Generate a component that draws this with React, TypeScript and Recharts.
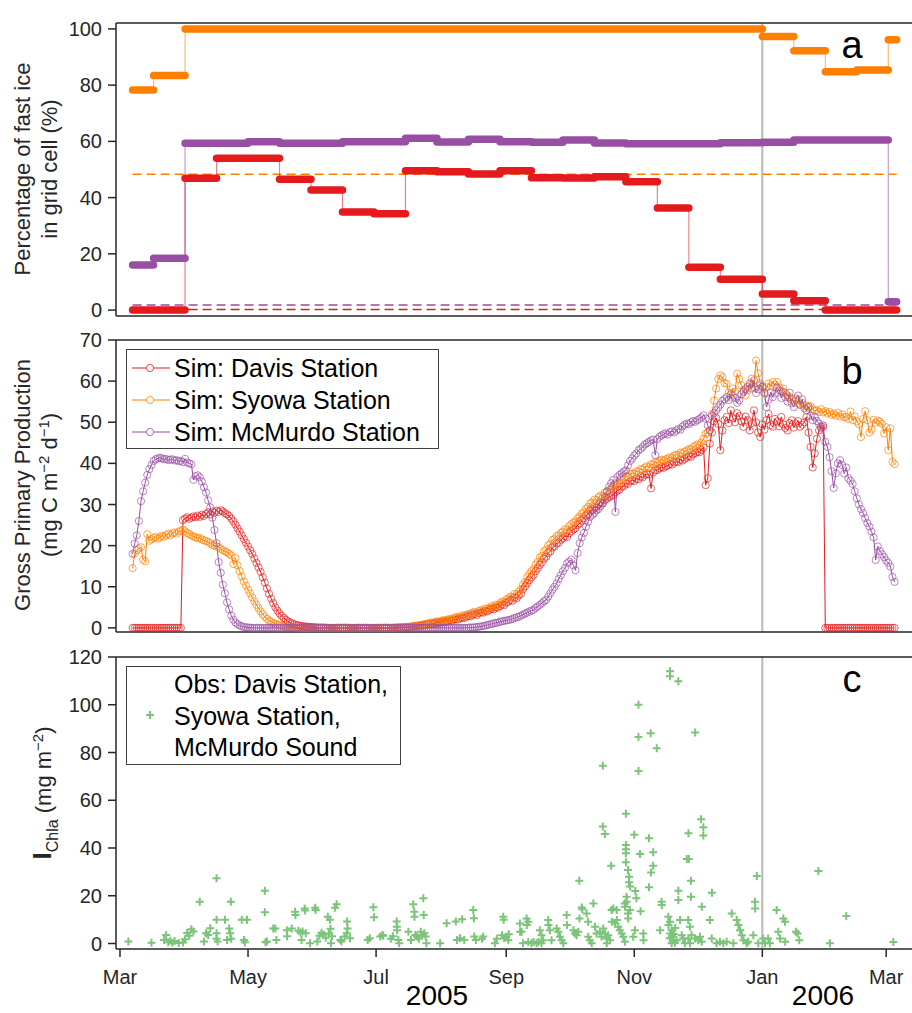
import React from 'react';
import { ComposedChart, Line, Scatter, XAxis, YAxis, ReferenceLine } from 'recharts';

const DAVIS = '#e41a1c';
const SYOWA = '#ff7f00';
const MCMURDO = '#984ea3';
const OBS = '#7cc47a';
const INK = '#262626';

// time axis: days counted from 1 Mar 2005
const monthTicks = [0, 61, 122, 184, 245, 306, 365];
const monthLabels = ['Mar', 'May', 'Jul', 'Sep', 'Nov', 'Jan', 'Mar'];
const newYearDay = 306;
const xDomain: [number, number] = [-1.9, 377.3];

// (a) fast ice fraction, 15-day periods
const iceBreaks = [6, 16, 31, 46, 61, 76, 91, 106, 121, 136, 151, 166, 181, 196, 211, 226, 241, 256, 271, 286, 301, 306, 321, 336, 351, 366, 370];
const iceDavis = [0, 0, 46.9, 54.0, 54.0, 46.5, 42.7, 34.9, 34.3, 49.6, 49.2, 48.4, 49.6, 47.1, 47.0, 47.4, 45.6, 36.3, 15.2, 11.0, 11.0, 5.7, 3.3, 0, 0, 0];
const iceSyowa = [78.3, 83.4, 100, 100, 100, 100, 100, 100, 100, 100, 100, 100, 100, 100, 100, 100, 100, 100, 100, 100, 100, 97.3, 92.2, 84.8, 85.4, 96.1];
const iceMcMurdo = [16.0, 18.4, 59.3, 59.3, 59.9, 59.3, 59.3, 59.9, 59.9, 61.1, 59.8, 60.8, 59.9, 59.7, 60.5, 59.4, 59.2, 59.2, 59.2, 59.5, 59.5, 59.7, 60.5, 60.5, 60.5, 3.0];
const iceMean = { davis: 0.2, syowa: 48.3, mcmurdo: 1.8 };
const iceTicks = [0, 20, 40, 60, 80, 100];

// (b) simulated GPP, daily from day 6
const gppStartDay = 6;
const gppDavis = [
  /* 6 */ 0, 0, 0, 0, 0, 0, 0, 0, 0, 0,
  /* 16 */ 0, 0, 0, 0, 0, 0, 0, 0, 0, 0,
  /* 26 */ 0, 0, 0, 0, 26.2, 26.6, 26.9, 26.5, 26.8, 27.1,
  /* 36 */ 26.9, 27.3, 27.0, 27.5, 27.2, 27.7, 28.1, 27.6, 28.3, 28.0,
  /* 46 */ 28.5, 28.2, 28.6, 28.3, 27.9, 27.6, 27.2, 26.6, 25.9, 25.1,
  /* 56 */ 24.2, 23.4, 22.5, 21.6, 20.7, 19.8, 18.9, 18.0, 16.9, 15.8,
  /* 66 */ 14.7, 13.6, 12.3, 11.0, 9.6, 8.3, 7.1, 6.0, 5.0, 4.2,
  /* 76 */ 3.5, 2.9, 2.4, 2.0, 1.6, 1.3, 1.1, 0.9, 0.7, 0.6,
  /* 86 */ 0.5, 0.4, 0.35, 0.3, 0.25, 0.2, 0.2, 0.15, 0.1, 0.1,
  /* 96 */ 0.1, 0.05, 0.05, 0, 0, 0, 0, 0, 0, 0,
  /* 106 */ 0, 0, 0, 0, 0, 0, 0, 0, 0, 0,
  /* 116 */ 0, 0, 0, 0, 0, 0, 0, 0, 0, 0,
  /* 126 */ 0, 0, 0, 0, 0, 0.05, 0.05, 0.1, 0.1, 0.15,
  /* 136 */ 0.15, 0.2, 0.25, 0.3, 0.35, 0.4, 0.5, 0.55, 0.6, 0.7,
  /* 146 */ 0.8, 0.9, 1.0, 0.95, 1.1, 1.3, 1.2, 1.4, 1.5, 1.4,
  /* 156 */ 1.6, 1.8, 1.7, 2.0, 2.1, 2.0, 2.3, 2.5, 2.4, 2.7,
  /* 166 */ 2.9, 2.8, 3.2, 3.4, 3.1, 3.6, 3.8, 3.7, 4.1, 4.0,
  /* 176 */ 4.4, 4.7, 4.5, 5.0, 4.9, 5.3, 5.7, 5.5, 6.1, 6.4,
  /* 186 */ 6.8, 6.6, 7.4, 7.2, 7.9, 8.3, 9.4, 10.1, 10.9, 11.6,
  /* 196 */ 12.3, 12.9, 13.8, 14.5, 15.3, 15.9, 16.8, 17.3, 18.2, 18.6,
  /* 206 */ 19.5, 19.8, 20.5, 20.7, 21.4, 21.8, 22.3, 22.1, 23.0, 23.5,
  /* 216 */ 23.9, 24.2, 25.0, 25.4, 26.1, 26.6, 27.3, 27.7, 28.5, 28.8,
  /* 226 */ 29.4, 29.2, 30.0, 30.5, 30.3, 31.1, 31.4, 31.8, 32.1, 32.3,
  /* 236 */ 33.0, 33.4, 33.6, 34.3, 34.5, 35.1, 35.0, 35.6, 35.9, 35.7,
  /* 246 */ 36.3, 36.1, 36.8, 36.6, 37.2, 37.4, 37.3, 33.9, 37.8, 38.3,
  /* 256 */ 38.4, 38.8, 39.1, 38.9, 39.3, 39.5, 39.9, 39.7, 40.2, 40.4,
  /* 266 */ 40.3, 40.9, 40.7, 41.1, 41.4, 41.8, 41.6, 42.2, 42.5, 42.8,
  /* 276 */ 42.7, 43.3, 43.9, 34.7, 36.4, 44.8, 47.5, 50.2, 51.0, 49.6,
  /* 286 */ 43.2, 48.0, 50.5, 51.3, 49.8, 52.9, 51.0, 50.0, 52.2, 51.5,
  /* 296 */ 50.2, 48.9, 51.4, 50.5, 48.0, 49.8, 52.9, 50.0, 47.5, 46.4,
  /* 306 */ 49.5, 48.2, 50.5, 52.0, 49.3, 48.9, 50.8, 50.2, 49.0, 51.3,
  /* 316 */ 49.5, 48.6, 48.0, 49.8, 50.5, 48.7, 49.7, 50.3, 48.9, 49.4,
  /* 326 */ 50.0, 51.3, 47.5, 44.0, 39.0, 42.4, 46.0, 48.0, 48.9, 49.2,
  /* 336 */ 0, 0, 0, 0, 0, 0, 0, 0, 0, 0,
  /* 346 */ 0, 0, 0, 0, 0, 0, 0, 0, 0, 0,
  /* 356 */ 0, 0, 0, 0, 0, 0, 0, 0, 0, 0,
  /* 366 */ 0, 0, 0, 0,
];
const gppSyowa = [
  /* 6 */ 14.5, 18.0, 18.9, 19.3, 19.6, 16.6, 16.2, 22.8, 21.2, 21.5,
  /* 16 */ 21.9, 22.1, 21.7, 22.0, 22.4, 22.2, 22.6, 22.9, 22.5, 23.0,
  /* 26 */ 23.2, 22.9, 23.4, 23.6, 23.9, 23.5, 23.1, 22.8, 22.5, 22.2,
  /* 36 */ 22.0, 21.8, 21.9, 21.5, 21.3, 21.1, 20.9, 20.6, 20.2, 20.0,
  /* 46 */ 19.8, 19.6, 19.2, 18.9, 18.6, 18.4, 18.0, 17.6, 15.5, 17.0,
  /* 56 */ 15.2, 13.8, 12.5, 11.3, 10.3, 9.3, 8.4, 7.4, 6.5, 5.6,
  /* 66 */ 4.8, 4.0, 3.3, 2.7, 2.2, 1.8, 1.5, 1.2, 1.0, 0.8,
  /* 76 */ 0.65, 0.5, 0.4, 0.3, 0.25, 0.2, 0.15, 0.1, 0.1, 0.05,
  /* 86 */ 0.05, 0, 0, 0, 0, 0, 0, 0, 0, 0,
  /* 96 */ 0, 0, 0, 0, 0, 0, 0, 0, 0, 0,
  /* 106 */ 0, 0, 0, 0, 0, 0, 0, 0, 0, 0,
  /* 116 */ 0, 0, 0, 0, 0, 0, 0, 0, 0, 0,
  /* 126 */ 0, 0, 0, 0, 0.05, 0.05, 0.1, 0.1, 0.15, 0.15,
  /* 136 */ 0.2, 0.25, 0.3, 0.35, 0.45, 0.5, 0.6, 0.7, 0.8, 0.9,
  /* 146 */ 1.0, 1.1, 1.3, 1.2, 1.4, 1.6, 1.5, 1.7, 1.9, 1.8,
  /* 156 */ 2.0, 2.2, 2.1, 2.4, 2.6, 2.5, 2.8, 3.0, 2.9, 3.2,
  /* 166 */ 3.4, 3.3, 3.7, 3.9, 3.6, 4.1, 4.4, 4.2, 4.7, 4.6,
  /* 176 */ 4.9, 5.3, 5.1, 5.6, 5.5, 6.0, 6.4, 6.2, 6.9, 7.2,
  /* 186 */ 7.6, 7.4, 8.3, 8.1, 8.8, 9.4, 10.5, 11.2, 12.4, 13.1,
  /* 196 */ 13.8, 14.3, 15.4, 16.0, 17.1, 17.5, 18.6, 19.0, 20.1, 20.4,
  /* 206 */ 21.4, 21.6, 22.3, 22.5, 23.1, 23.4, 24.0, 23.8, 24.7, 25.2,
  /* 216 */ 25.6, 25.9, 26.7, 27.0, 27.8, 28.1, 29.0, 29.4, 30.3, 30.5,
  /* 226 */ 31.2, 31.0, 31.8, 32.2, 32.0, 32.9, 33.1, 33.5, 33.9, 34.0,
  /* 236 */ 34.8, 35.1, 35.3, 36.0, 36.2, 36.9, 36.8, 37.4, 37.6, 37.5,
  /* 246 */ 38.1, 38.0, 38.6, 38.5, 39.0, 39.3, 39.1, 39.8, 39.7, 40.3,
  /* 256 */ 40.2, 40.6, 40.9, 40.7, 41.0, 41.2, 41.5, 41.3, 41.9, 42.1,
  /* 266 */ 42.0, 42.6, 42.4, 42.9, 43.1, 43.5, 43.4, 44.0, 44.2, 44.6,
  /* 276 */ 44.4, 45.1, 46.0, 47.2, 47.5, 48.1, 52.0, 55.3, 58.2, 60.5,
  /* 286 */ 61.4, 61.0, 59.5, 59.4, 57.2, 56.0, 58.2, 57.5, 61.8, 60.5,
  /* 296 */ 59.0, 57.8, 56.5, 57.8, 59.0, 60.6, 58.5, 65.0, 61.9, 59.5,
  /* 306 */ 58.6, 57.0, 58.5, 59.4, 58.8, 59.8, 59.2, 59.8, 58.5, 57.6,
  /* 316 */ 58.2, 57.0, 56.5, 56.1, 55.5, 54.9, 55.4, 54.6, 54.2, 54.8,
  /* 326 */ 53.9, 54.1, 53.5, 53.9, 53.2, 52.8, 52.9, 52.5, 53.2, 52.4,
  /* 336 */ 52.7, 52.1, 52.5, 51.8, 52.1, 51.6, 52.3, 51.4, 51.9, 51.2,
  /* 346 */ 51.3, 50.8, 52.6, 50.5, 51.4, 50.2, 49.5, 46.4, 50.8, 52.7,
  /* 356 */ 50.5, 47.5, 48.2, 50.6, 49.9, 50.4, 50.1, 49.6, 47.3, 48.8,
  /* 366 */ 43.2, 48.5, 40.4, 39.8,
];
const gppMcMurdo = [
  /* 6 */ 18.0, 20.5, 22.5, 26.0, 30.8, 33.2, 35.3, 37.2, 38.6, 39.6,
  /* 16 */ 40.6, 41.0, 41.2, 41.4, 41.2, 41.0, 41.1, 40.8, 40.9, 41.0,
  /* 26 */ 40.7, 40.8, 40.5, 40.6, 40.3, 41.1, 40.2, 40.0, 39.8, 36.0,
  /* 36 */ 36.9, 37.1, 36.6, 35.6, 34.2, 32.9, 31.0, 29.3, 26.8, 23.8,
  /* 46 */ 20.6, 16.0, 13.4, 10.5, 8.4, 6.2, 4.5, 3.0, 2.0, 1.3,
  /* 56 */ 0.9, 0.6, 0.35, 0.25, 0.15, 0.1, 0.05, 0, 0, 0,
  /* 66 */ 0, 0, 0, 0, 0, 0, 0, 0, 0, 0,
  /* 76 */ 0, 0, 0, 0, 0, 0, 0, 0, 0, 0,
  /* 86 */ 0, 0, 0, 0, 0, 0, 0, 0, 0, 0,
  /* 96 */ 0, 0, 0, 0, 0, 0, 0, 0, 0, 0,
  /* 106 */ 0, 0, 0, 0, 0, 0, 0, 0, 0, 0,
  /* 116 */ 0, 0, 0, 0, 0, 0, 0, 0, 0, 0,
  /* 126 */ 0, 0, 0, 0, 0, 0, 0, 0, 0, 0,
  /* 136 */ 0, 0, 0, 0, 0, 0, 0, 0, 0, 0,
  /* 146 */ 0, 0, 0, 0, 0, 0, 0, 0, 0, 0,
  /* 156 */ 0, 0, 0, 0, 0, 0, 0, 0, 0, 0,
  /* 166 */ 0.05, 0.1, 0.1, 0.15, 0.2, 0.3, 0.35, 0.45, 0.55, 0.7,
  /* 176 */ 0.8, 0.95, 1.1, 1.2, 1.3, 1.5, 1.6, 1.7, 1.8, 1.9,
  /* 186 */ 2.0, 2.2, 2.4, 2.6, 2.7, 3.0, 3.2, 3.5, 3.7, 4.0,
  /* 196 */ 4.2, 4.4, 4.9, 5.2, 5.6, 6.0, 6.5, 6.8, 7.6, 8.4,
  /* 206 */ 9.3, 10.0, 10.8, 11.9, 12.8, 13.8, 14.6, 15.7, 16.1, 16.6,
  /* 216 */ 15.2, 14.0, 18.2, 20.6, 22.0, 23.1, 24.6, 25.8, 27.0, 27.5,
  /* 226 */ 27.9, 28.6, 28.9, 29.6, 30.3, 31.8, 33.2, 34.3, 35.2, 36.0,
  /* 236 */ 28.2, 36.7, 37.2, 37.6, 38.0, 38.3, 39.5, 40.6, 41.2, 41.9,
  /* 246 */ 42.4, 43.2, 43.5, 44.0, 44.6, 44.9, 45.2, 45.6, 45.8, 42.0,
  /* 256 */ 45.9, 46.5, 46.8, 47.1, 47.3, 47.0, 47.6, 47.8, 47.5, 48.0,
  /* 266 */ 48.4, 48.2, 49.0, 49.4, 49.7, 49.5, 50.0, 50.3, 50.1, 50.5,
  /* 276 */ 50.8, 51.2, 51.7, 50.9, 49.2, 48.0, 51.5, 52.2, 52.9, 53.6,
  /* 286 */ 54.3, 55.2, 55.6, 56.1, 55.4, 56.8, 56.5, 55.9, 54.7, 55.3,
  /* 296 */ 56.8, 57.4, 58.1, 58.6, 59.4, 58.2, 60.2, 57.1, 58.0, 59.0,
  /* 306 */ 58.6, 57.2, 53.7, 55.5, 57.3, 56.1, 57.0, 58.4, 57.8, 55.9,
  /* 316 */ 57.4, 56.1, 55.0, 57.2, 54.6, 53.7, 55.8, 56.5, 54.3, 55.6,
  /* 326 */ 53.4, 52.9, 53.8, 51.6, 50.5, 51.2, 50.3, 49.7, 48.5, 48.8,
  /* 336 */ 45.2, 44.0, 41.5, 38.1, 34.0, 37.6, 40.0, 40.8, 39.6, 37.5,
  /* 346 */ 39.0, 36.4, 35.8, 35.0, 33.2, 31.5, 30.0, 28.9, 27.9, 26.7,
  /* 356 */ 25.5, 24.6, 23.4, 22.0, 16.5, 19.8, 18.7, 17.9, 17.2, 16.4,
  /* 366 */ 15.8, 14.9, 12.4, 11.2,
];
const gppTicks = [0, 10, 20, 30, 40, 50, 60, 70];

// (c) observed ice chlorophyll, [day, mg m-2]
const obsPoints: [number, number][] = [
  [4, 0.8], [15, 0.3], [21, 1.5], [22, 3.6], [23, 0.5], [24, 1.2], [25, 0.3], [26, 1.0], [28, 0.2], [30, 0.4], [31, 1.8], [32, 4.4], [33, 3.2], [34, 6.0], [35, 5.0],
  [38, 17.5], [40, 0.8], [41, 4.3], [42, 3.6], [43, 6.4],
  [46, 27.3], [46, 9.9], [46, 4.3], [46, 2.0], [46.5, 0.8], [50, 9.9], [51, 1.5], [52, 6.3], [52.5, 4.3], [52.8, 17.5], [53, 2.0],
  [58, 9.9], [59, 1.5], [59.5, 0.5], [60.5, 9.9],
  [69, 22.1], [69, 13.1], [69.3, 0.5], [70, 0.8], [73, 6.3], [74, 6.3], [74.5, 1.5],
  [79.5, 5.6], [79.6, 3.0], [81.8, 6.3], [83.4, 13.3], [83.6, 11.9], [85, 5.3], [86, 4.6], [86.5, 1.5], [87, 5.0], [88, 14.7], [88.2, 13.8], [88.5, 4.3], [90.5, 0.1],
  [93, 15.0], [93.2, 14.0], [94, 0.8], [95, 3.3], [96, 4.5], [97, 3.8], [98, 2.4], [99, 11.2], [99.5, 4.2], [100, 9.9], [100.3, 6.2], [100.5, 0.1], [101, 3.0],
  [102.4, 15.0], [103.2, 16.4], [105, 1.5], [105.5, 0.8], [107, 2.9], [108, 4.3], [108.2, 9.2], [108.4, 6.3], [109.6, 2.2],
  [118, 1.5], [119, 2.2], [120.7, 15.2], [121, 11.0], [124, 2.9], [125, 3.6], [125.4, 3.2], [129, 2.0], [130, 3.0], [131.8, 9.2], [131.9, 7.0], [132, 5.6], [132.6, 1.5], [133, 0.1],
  [137.4, 4.9], [138.6, 1.5], [139.7, 16.4], [140.2, 13.3], [140.3, 11.2], [140.7, 3.6], [141.5, 2.9], [142.4, 2.0], [143.3, 4.9], [144, 3.6], [144.5, 19.0], [144.7, 11.9], [145, 4.3], [145.6, 2.9], [146, 0.1],
  [152.5, 0.1], [155.6, 8.5], [160, 9.2], [160.5, 1.5], [162, 2.2], [163, 10.2], [164, 1.5], [168.3, 14.0], [168.6, 10.6], [168.8, 2.9], [169.5, 1.5], [172.5, 2.0], [173, 2.9], [178.6, 0.1], [179.5, 2.0],
  [182.6, 11.2], [182.8, 10.0], [182, 3.5], [183, 2.2], [184, 2.8], [185, 1.4], [185.2, 3.9],
  [190.5, 8.4], [190.6, 4.9], [191.3, 4.9], [193.7, 10.5], [194.5, 9.1], [193.8, 7.7], [192, 0.1], [194.5, 0.6], [196, 0.1], [197, 0.6], [198.4, 0.1], [199.3, 0.6], [200.8, 0.1], [201.6, 1.4], [200, 5.6], [200.8, 3.5],
  [204, 9.8], [204.1, 7.7], [204.8, 5.6], [205.6, 1.4], [208, 6.3], [208.8, 4.9], [209.6, 2.8], [210.4, 1.4], [211.2, 0.1],
  [212.8, 11.9], [212.9, 7.7], [216, 5.6], [216.8, 4.2], [217.5, 3.5], [218.3, 4.9], [218.8, 26.3], [218.9, 10.5], [220, 15.1], [220.2, 14.3],
  [222.3, 12.6], [223, 9.1], [223.1, 2.8], [223.8, 1.4], [224.7, 0.1], [225.5, 16.8],
  [226.3, 7.0], [227, 4.2], [228.6, 4.9], [229.4, 2.8], [230.2, 6.3], [231, 4.2], [231.8, 2.1], [231.9, 0.1], [232.6, 3.5], [233.4, 1.4],
  [234.2, 14.0], [235, 14.7], [236.6, 14.0], [234.3, 9.1], [235.8, 8.4], [236.7, 9.8], [237.4, 7.0], [238.1, 5.6], [239, 4.2], [239.8, 2.8], [240.5, 0.7],
  [240.5, 16.8], [240.6, 15.4], [241.3, 19.6], [241.4, 17.5], [242, 12.6], [242.1, 10.5], [242.9, 14.0],
  [244.5, 2.8], [245.3, 5.6], [249.3, 4.2], [249.4, 1.4],
  [257.3, 5.6], [258, 17.5], [258.1, 16.1],
  [261.2, 11.2], [262, 9.1], [261.3, 7.7], [262.8, 5.6], [262.1, 4.2], [262.9, 2.8], [263.6, 1.4], [262.8, 0.1], [264.4, 0.3], [265.2, 1.4], [263.8, 4.0], [264.5, 6.5], [263, 3.0], [261.9, 2.2],
  [266, 18.2], [266.8, 9.8], [267.6, 3.5], [268.3, 2.1], [269.1, 0.1],
  [270.7, 9.8], [271.5, 7.0], [270.8, 2.1], [271.6, 0.1], [272.3, 3.5],
  [274, 2.1], [275.5, 1.4], [276.3, 2.8], [277.1, 0.7], [277.2, 15.4],
  [281, 9.8], [281.9, 2.1],
  [284.2, 0.1], [285.8, 0.7], [287.4, 0.1], [289, 0.7], [291.4, 12.6], [292.2, 0.1],
  [293.8, 9.8], [294.6, 7.7], [295.4, 5.6], [296.2, 3.5], [297, 1.4], [298.5, 0.1], [299.3, 0.7], [301.7, 3.5], [302.5, 17.5], [302.6, 14.7], [304.1, 0.1],
  [306.4, 2.1], [307.3, 0.1], [308.8, 2.1], [309.6, 0.1],
  [312.8, 14.0], [313.6, 4.9], [314.4, 2.1], [316, 10.5], [316.8, 9.1], [316.9, 0.7],
  [322, 4.9], [322.8, 4.2], [323.6, 1.4],
  [338.2, 0.1], [346, 11.5], [368.4, 0.6],
  [262, 114.0], [262, 111.9], [266, 109.8], [247, 100.0], [247, 86.5], [252.8, 88.1], [255.7, 81.8], [274, 88.4], [230, 74.4], [247, 72.3],
  [241, 54.3], [230, 49.0], [231, 45.9], [245, 45.5], [252, 44.1], [276.8, 52.0], [277.9, 48.7], [277.9, 45.2], [270.8, 46.2],
  [241, 41.3], [241, 39.5], [241, 37.8], [247.7, 37.5], [254, 38.2], [241, 34.0], [234, 32.6], [254, 32.6], [253, 29.7], [270, 35.4], [271, 35.4],
  [242, 30.8], [242.5, 28.0], [242.5, 25.7], [243, 23.9], [252, 23.6], [272, 26.3], [282, 21.3], [266, 22.1], [245.5, 22.0], [246, 19.0], [248, 13.5],
  [303.4, 28.3], [332.7, 30.4], [272, 19.6],
];
const obsTicks = [0, 20, 40, 60, 80, 100, 120];

const stations = [
  { label: 'Sim: Davis Station', color: DAVIS, ice: iceDavis, mean: iceMean.davis, gpp: gppDavis },
  { label: 'Sim: Syowa Station', color: SYOWA, ice: iceSyowa, mean: iceMean.syowa, gpp: gppSyowa },
  { label: 'Sim: McMurdo Station', color: MCMURDO, ice: iceMcMurdo, mean: iceMean.mcmurdo, gpp: gppMcMurdo },
];
const obsLegend = ['Obs: Davis Station,', 'Syowa Station,', 'McMurdo Sound'];

// tables for the library
const lastBreak = iceBreaks[iceBreaks.length - 1];
const iceSegments = (vals: number[]) =>
  vals.flatMap((v, i) => [
    { d: iceBreaks[i], v },
    { d: iceBreaks[i + 1], v },
    { d: iceBreaks[i + 1], v: null as number | null },
  ]);
const iceSteps = (vals: number[]) =>
  vals.map((v, i) => ({ d: iceBreaks[i], v })).concat({ d: lastBreak, v: vals[vals.length - 1] });
const meanRows = (v: number) => [{ d: iceBreaks[0], v }, { d: lastBreak, v }];
const gppRows = (vals: number[]) => vals.map((v, i) => ({ d: gppStartDay + i, v }));
const obsRows = obsPoints.map(([d, v]) => ({ d, v }));

const axisLine = { stroke: INK, strokeWidth: 1.5 };
const tickLine = { stroke: INK, strokeWidth: 1.5 };
const tickFont = { fontSize: 20, fill: INK };

const timeAxes = (showLabels: boolean) => [
  <XAxis key="top" xAxisId="top" orientation="top" type="number" dataKey="d" domain={xDomain} ticks={monthTicks}
    allowDataOverflow height={8} interval={0} tick={false} tickSize={8} axisLine={axisLine} tickLine={tickLine} />,
  <XAxis key="bottom" type="number" dataKey="d" domain={xDomain} ticks={monthTicks} allowDataOverflow
    height={showLabels ? 50 : 8} interval={0} tickSize={8} tickMargin={13} axisLine={axisLine} tickLine={tickLine}
    tick={showLabels ? tickFont : false}
    tickFormatter={(d: number) => monthLabels[monthTicks.indexOf(d)]} />,
];

const valueAxis = (domain: [number, number], ticks: number[]) => (
  <YAxis type="number" domain={domain} ticks={ticks} allowDataOverflow width={116} tickSize={8} tickMargin={6}
    interval={0} axisLine={axisLine} tickLine={tickLine} tick={tickFont} />
);

const newYearLine = <ReferenceLine x={newYearDay} stroke="#b8b8b8" strokeWidth={2} />;

const PlusShape = (props: any) => {
  const { cx, cy } = props;
  if (cx == null || cy == null) return null;
  return <path d={`M${cx - 4},${cy}h8M${cx},${cy - 4}v8`} stroke={OBS} strokeWidth={2} fill="none" />;
};

const App: React.FC = () => {
  const drawOrder = [stations[1], stations[0], stations[2]];
  return (
    <div style={{ position: 'absolute', left: 0, top: 0, width: 912, height: 1013, background: '#fff', overflow: 'hidden', fontFamily: '"Liberation Sans", Arial, sans-serif' }}>
      {/* a: fast ice */}
      <div style={{ position: 'absolute', left: 0, top: 0 }}>
        <ComposedChart width={912} height={332} margin={{ top: 15, right: 0, bottom: 8, left: 0 }}>
          {timeAxes(false)}
          {valueAxis([-2.1, 102.1], iceTicks)}
          {newYearLine}
          {stations.map((s) => (
            <Line key={'mean' + s.label} data={meanRows(s.mean)} dataKey="v" stroke={s.color} strokeWidth={1.6}
              strokeDasharray="9 5" dot={false} activeDot={false} isAnimationActive={false} />
          ))}
          {stations.map((s) => (
            <Line key={'step' + s.label} data={iceSteps(s.ice)} dataKey="v" type="stepAfter" stroke={s.color}
              strokeOpacity={0.55} strokeWidth={1.2} dot={false} activeDot={false} isAnimationActive={false} />
          ))}
          {drawOrder.map((s) => (
            <Line key={'seg' + s.label} data={iceSegments(s.ice)} dataKey="v" stroke={s.color} strokeWidth={7.5}
              strokeLinecap="round" dot={false} activeDot={false} isAnimationActive={false} />
          ))}
        </ComposedChart>
      </div>

      {/* b: gross primary production */}
      <div style={{ position: 'absolute', left: 0, top: 330 }}>
        <ComposedChart width={912} height={320} margin={{ top: 2, right: 0, bottom: 10, left: 0 }}>
          {timeAxes(false)}
          {valueAxis([-1, 70], gppTicks)}
          {newYearLine}
          {stations.map((s) => (
            <Line key={'gpp' + s.label} data={gppRows(s.gpp)} dataKey="v" stroke={s.color} strokeWidth={1}
              dot={{ r: 3.6, fill: 'none', stroke: s.color, strokeWidth: 0.8, strokeOpacity: 0.85 }}
              activeDot={false} isAnimationActive={false} />
          ))}
        </ComposedChart>
      </div>

      {/* c: observations */}
      <div style={{ position: 'absolute', left: 0, top: 640 }}>
        <ComposedChart width={912} height={373} margin={{ top: 9, right: 0, bottom: 14, left: 0 }}>
          {timeAxes(true)}
          {valueAxis([-2.3, 120], obsTicks)}
          {newYearLine}
          <Scatter data={obsRows} dataKey="v" fill={OBS} shape={PlusShape} isAnimationActive={false} />
        </ComposedChart>
      </div>

      <svg width={912} height={1013} style={{ position: 'absolute', left: 0, top: 0, pointerEvents: 'none' }}>
        <g fontSize={22} fill={INK} textAnchor="middle">
          <text transform="translate(30,169) rotate(-90)">Percentage of fast ice</text>
          <text transform="translate(57,169) rotate(-90)">in grid cell (%)</text>
          <text transform="translate(30,485) rotate(-90)">Gross Primary Production</text>
          <text transform="translate(57,485) rotate(-90)">
            (mg C m<tspan dy={-8} fontSize={15}>−2</tspan>
            <tspan dy={8}> d</tspan>
            <tspan dy={-8} fontSize={15}>−1</tspan>
            <tspan dy={8}>)</tspan>
          </text>
          <text transform="translate(51,793) rotate(-90)">
            <tspan fontSize={26} fontWeight={700}>I</tspan>
            <tspan dy={7} fontSize={16}>Chla</tspan>
            <tspan dy={-7}> (mg m</tspan>
            <tspan dy={-8} fontSize={15}>−2</tspan>
            <tspan dy={8}>)</tspan>
          </text>
        </g>

        <g fontSize={38} fill="#000" textAnchor="middle">
          <text x={852} y={58}>a</text>
          <text x={852} y={384}>b</text>
          <text x={852} y={692}>c</text>
        </g>

        <g fontSize={28} fill="#000" textAnchor="middle">
          <text x={437} y={1005}>2005</text>
          <text x={823} y={1005}>2006</text>
        </g>

        <rect x={126.5} y={349.5} width={312} height={99} fill="#fff" stroke="#404040" strokeWidth={1} />
        {stations.map((s, i) => (
          <g key={'leg' + s.label}>
            <line x1={132} x2={170} y1={368 + 32 * i} y2={368 + 32 * i} stroke={s.color} strokeWidth={1} />
            <circle cx={150} cy={368 + 32 * i} r={3.6} fill="#fff" stroke={s.color} strokeWidth={0.8} />
            <text x={174} y={377 + 32 * i} fontSize={25} fill="#000">{s.label}</text>
          </g>
        ))}

        <rect x={126.5} y={666.5} width={274} height={98} fill="#fff" stroke="#404040" strokeWidth={1} />
        <path d="M146,715h8M150,711v8" stroke={OBS} strokeWidth={2} />
        {obsLegend.map((t, i) => (
          <text key={t} x={174} y={693 + 31.5 * i} fontSize={25} fill="#000">{t}</text>
        ))}
      </svg>
    </div>
  );
};

export default App;
